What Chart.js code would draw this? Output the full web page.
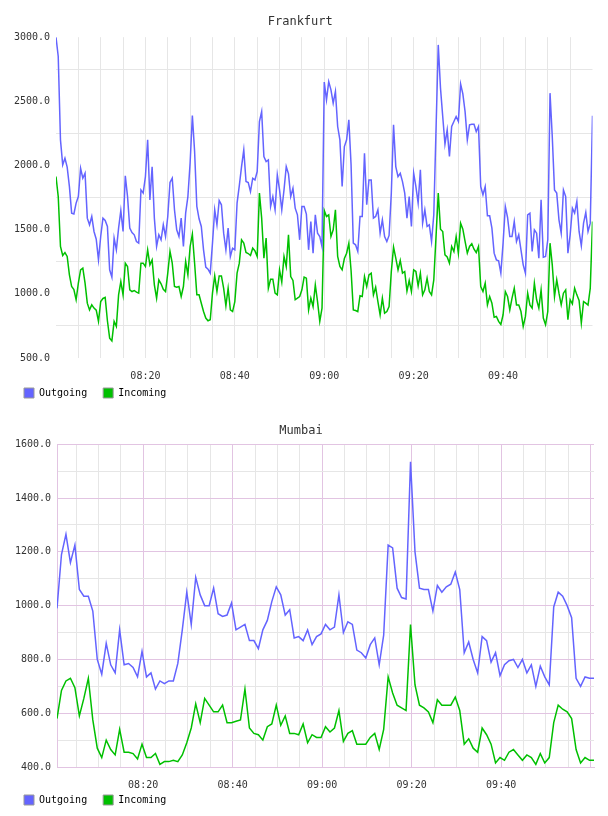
<!DOCTYPE html>
<html>
<head>
<meta charset="utf-8">
<title>Traffic</title>
<script src="https://cdn.jsdelivr.net/npm/chart.js@4.4.1/dist/chart.umd.min.js"></script>
<style>
    body { margin: 0; background: #fff; overflow: hidden; }
    .box { position: absolute; left: 0; width: 608px; height: 408px; }
</style>
</head>
<body>
<div class="box" style="top:0"><canvas id="frankfurtChart" width="608" height="408"></canvas></div>
<div class="box" style="top:408px"><canvas id="mumbaiChart" width="608" height="408"></canvas></div>
<script>
// Frankfurt: one sample every 30 s starting 08:00
const frankfurtStep = 0.5;
const frankfurtOutgoing = [
    3000, 2850, 2200, 2005, 2057, 1987, 1836, 1629, 1623, 1707,
    1758, 1979, 1901, 1940, 1590, 1538, 1603, 1486, 1426, 1265,
    1447, 1590, 1572, 1525, 1187, 1130, 1434, 1343, 1512, 1649,
    1486, 1920, 1758, 1512, 1478, 1460, 1408, 1395, 1810, 1785,
    1914, 2200, 1732, 1990, 1590, 1369, 1460, 1421, 1538, 1447,
    1603, 1868, 1901, 1655, 1499, 1447, 1590, 1369, 1629, 1758,
    2022, 2390, 2110, 1681, 1585, 1525, 1343, 1208, 1192, 1161,
    1395, 1655, 1538, 1727, 1694, 1473, 1343, 1512, 1291, 1356,
    1343, 1707, 1844, 1992, 2122, 1875, 1868, 1797, 1901, 1888,
    1953, 2343, 2421, 2070, 2031, 2044, 1681, 1758, 1655, 1927,
    1810, 1655, 1810, 1992, 1935, 1758, 1823, 1668, 1616, 1421,
    1681, 1681, 1621, 1343, 1564, 1317, 1616, 1473, 1447, 1369,
    2650, 2512, 2654, 2590, 2486, 2577, 2304, 2200, 1836, 2148,
    2200, 2356, 2005, 1395, 1382, 1330, 1603, 1603, 2096, 1694,
    1888, 1888, 1590, 1603, 1655, 1473, 1577, 1447, 1408, 1455,
    1785, 2317, 1992, 1914, 1940, 1875, 1785, 1590, 1758, 1525,
    1940, 1836, 1707, 1966, 1551, 1655, 1525, 1538, 1408, 1616,
    2280, 2940, 2603, 2382, 2166, 2278, 2070, 2304, 2343, 2382,
    2343, 2635, 2558, 2420, 2200, 2317, 2322, 2322, 2265, 2304,
    1836, 1772, 1836, 1608, 1608, 1512, 1317, 1265, 1257, 1161,
    1395, 1681, 1595, 1447, 1447, 1564, 1408, 1460, 1343, 1226,
    1161, 1616, 1629, 1330, 1499, 1473, 1278, 1733, 1286, 1291,
    1421, 2564, 2226, 1810, 1785, 1577, 1473, 1810, 1758, 1317,
    1460, 1668, 1629, 1720, 1486, 1374, 1551, 1634, 1486, 1551,
    2387
];
const frankfurtIncoming = [
    1914, 1758, 1369, 1299, 1322, 1291, 1148, 1057, 1034, 954,
    1083, 1187, 1200, 1083, 927, 875, 914, 889, 873, 785,
    940, 964, 972, 790, 655, 634, 785, 746, 992, 1096,
    992, 1239, 1213, 1031, 1018, 1026, 1013, 1005, 1239, 1239,
    1213, 1343, 1226, 1265, 1070, 966, 1109, 1078, 1036, 1018,
    1161, 1330, 1239, 1057, 1052, 1057, 979, 1057, 1252, 1148,
    1369, 1465, 1240, 992, 992, 927, 862, 811, 790, 798,
    1005, 1140, 1018, 1140, 1140, 1042, 907, 1044, 875, 862,
    940, 1161, 1239, 1421, 1395, 1322, 1314, 1299, 1356, 1335,
    1291, 1785, 1590, 1278, 1434, 1044, 1114, 1114, 1005, 992,
    1187, 1091, 1291, 1213, 1460, 1135, 1104, 954, 966, 979,
    1031, 1130, 1122, 875, 966, 901, 1070, 940, 785, 889,
    1650, 1603, 1616, 1447, 1499, 1655, 1291, 1213, 1187, 1275,
    1317, 1395, 1182, 875, 870, 862, 985, 979, 1135, 1057,
    1148, 1161, 992, 1052, 940, 836, 966, 849, 862, 901,
    1174, 1364, 1278, 1187, 1260, 1161, 1174, 1021, 1104, 1018,
    1187, 1174, 1062, 1161, 992, 1031, 1122, 1018, 992, 1109,
    1447, 1785, 1504, 1486, 1304, 1288, 1239, 1369, 1330, 1447,
    1317, 1550, 1504, 1408, 1317, 1369, 1390, 1348, 1322, 1369,
    1057, 1018, 1083, 914, 979, 927, 818, 824, 785, 761,
    837, 1018, 979, 875, 966, 1044, 914, 914, 862, 746,
    824, 1005, 914, 889, 1083, 954, 889, 1031, 811, 759,
    862, 1395, 1226, 979, 1109, 1005, 914, 1005, 1031, 798,
    954, 922, 1044, 992, 948, 772, 940, 927, 912, 1044,
    1564
];
const frankfurtMinutes = frankfurtOutgoing.map((v, i) => i * frankfurtStep);
const frankfurtYTicks = [500, 750, 1000, 1250, 1500, 1750, 2000, 2250, 2500, 2750, 3000];

// Mumbai: one sample a minute starting 08:00:45
const mumbaiStart = 0.75;
const mumbaiOutgoing = [
    990, 1190, 1265, 1160, 1225, 1060, 1035, 1035, 980, 800,
    745, 860, 780, 750, 910, 780, 785, 770, 735, 830,
    735, 750, 690, 720, 710, 720, 720, 785, 910, 1050,
    930, 1105, 1040, 1000, 1000, 1065, 970, 960, 965, 1010,
    910, 920, 930, 870, 870, 840, 910, 945, 1015, 1070,
    1040, 965, 985, 880, 885, 870, 910, 855, 885, 895,
    930, 910, 920, 1040, 900, 940, 930, 835, 825, 805,
    855, 880, 780, 890, 1225, 1215, 1065, 1030, 1025, 1535,
    1200, 1065, 1060, 1060, 980, 1075, 1050, 1070, 1080, 1125,
    1060, 825, 865, 800, 750, 885, 870, 790, 825, 740,
    780, 795, 800, 770, 800, 750, 780, 700, 775, 735,
    705, 995, 1050, 1035, 1000, 955, 730, 700, 735, 730,
    730
];
const mumbaiIncoming = [
    580, 685, 720, 730, 695, 590, 655, 730, 575, 470,
    435, 500, 465, 445, 540, 455, 455, 450, 430, 485,
    435, 435, 450, 410, 420, 420, 425, 420, 445, 490,
    545, 635, 565, 655, 630, 605, 605, 630, 565, 565,
    570, 575, 690, 545, 525, 520, 500, 550, 560, 630,
    555, 590, 525, 525, 520, 560, 490, 520, 510, 510,
    550, 530, 545, 610, 495, 525, 535, 485, 485, 485,
    510, 525, 465, 540, 735, 675, 630, 620, 610, 930,
    705, 630, 620, 605, 565, 650, 630, 630, 630, 660,
    610, 485, 505, 470, 455, 545, 520, 485, 415, 435,
    425, 455, 465, 445, 425, 445, 435, 410, 450, 415,
    435, 565, 630, 615, 605, 580, 465, 415, 435, 425,
    425
];
const mumbaiMinutes = mumbaiOutgoing.map((v, i) => mumbaiStart + i);
const mumbaiYTicks = [400, 500, 600, 700, 800, 900, 1000, 1100, 1200, 1300, 1400, 1500, 1600];

// minutes after 08:00, one grid line every 5 minutes
const timeTicks = [5, 10, 15, 20, 25, 30, 35, 40, 45, 50, 55, 60, 65, 70, 75, 80, 85, 90, 95, 100, 105, 110, 115, 120];
const seriesNames = ['Outgoing', 'Incoming'];
const seriesColors = ['#6464ff', '#00c000'];

Chart.defaults.font.family = "'DejaVu Sans Mono', monospace";
Chart.defaults.color = '#333';

// legend sits right under the tick labels, so pull it up a bit
const legendLift = {
    id: 'legendLift',
    afterLayout(chart, args, opts) {
        if (chart.legend) {
            chart.legend.top -= opts.dy;
            chart.legend.bottom -= opts.dy;
        }
    }
};

function clock(minutes) {
    const h = 8 + Math.floor(minutes / 60);
    const m = minutes % 60;
    return String(h).padStart(2, '0') + ':' + String(m).padStart(2, '0');
}

function makeChart(canvasId, cfg) {
    const canvas = document.getElementById(canvasId);
    if (!canvas) {
        console.error("Canvas '" + canvasId + "' not found.");
        return null;
    }
    return new Chart(canvas.getContext('2d'), {
        type: 'line',
        data: {
            labels: cfg.minutes,
            datasets: [{
                label: seriesNames[0],
                data: cfg.outgoing,
                borderColor: seriesColors[0],
                backgroundColor: seriesColors[0],
                borderWidth: 1.5,
                pointRadius: 0,
                tension: 0
            }, {
                label: seriesNames[1],
                data: cfg.incoming,
                borderColor: seriesColors[1],
                backgroundColor: seriesColors[1],
                borderWidth: 1.5,
                pointRadius: 0,
                tension: 0
            }]
        },
        plugins: [legendLift],
        options: {
            responsive: false,
            animation: false,
            events: [],
            layout: { padding: { left: 8, right: cfg.padRight, top: 0, bottom: -12 } },
            plugins: {
                legendLift: { dy: cfg.legendLift },
                title: {
                    display: true,
                    text: cfg.title,
                    color: '#333',
                    font: { size: 12, weight: 'normal' },
                    padding: cfg.titlePad
                },
                legend: {
                    position: 'bottom',
                    align: 'start',
                    labels: {
                        boxWidth: 10,
                        boxHeight: 10,
                        padding: 16,
                        color: '#333',
                        font: { size: 10 },
                        generateLabels: chart => chart.data.datasets.map((ds, i) => ({
                            text: ds.label,
                            fillStyle: ds.borderColor,
                            strokeStyle: '#999',
                            lineWidth: 1,
                            datasetIndex: i
                        }))
                    }
                },
                tooltip: { enabled: false }
            },
            scales: {
                x: {
                    type: 'linear',
                    min: cfg.xMin,
                    max: cfg.xMax,
                    afterBuildTicks: scale => {
                        scale.ticks = timeTicks.filter(m => m > cfg.xMin && m < cfg.xMax).map(m => ({ value: m }));
                    },
                    afterFit: scale => { scale.height = cfg.xHeight; },
                    border: { display: cfg.border, color: cfg.majorColor },
                    grid: {
                        drawTicks: false,
                        color: ctx => (cfg.border && ctx.tick.value % 20 === 0) ? cfg.majorColor : '#e6e6e6'
                    },
                    ticks: {
                        padding: 12,
                        maxRotation: 0,
                        autoSkip: false,
                        font: { size: 10 },
                        callback: v => (v % 20 === 0 && v < 120) ? clock(v) : ''
                    }
                },
                y: {
                    min: cfg.yTicks[0],
                    max: cfg.yTicks[cfg.yTicks.length - 1],
                    afterBuildTicks: scale => {
                        scale.ticks = cfg.yTicks.map(v => ({ value: v }));
                    },
                    afterFit: scale => { scale.width = cfg.yWidth; },
                    border: { display: cfg.border, color: cfg.majorColor },
                    grid: {
                        drawTicks: false,
                        color: ctx => {
                            if (ctx.tick.value % cfg.labelStep === 0) {
                                return cfg.border ? cfg.majorColor : 'rgba(0,0,0,0)';
                            }
                            return '#e6e6e6';
                        }
                    },
                    ticks: {
                        padding: 6,
                        autoSkip: false,
                        font: { size: 10 },
                        callback: v => v % cfg.labelStep === 0 ? v.toFixed(1) : ''
                    }
                }
            }
        }
    });
}

makeChart('frankfurtChart', {
    title: 'Frankfurt',
    minutes: frankfurtMinutes,
    outgoing: frankfurtOutgoing,
    incoming: frankfurtIncoming,
    xMin: 0,
    xMax: 120,
    yTicks: frankfurtYTicks,
    labelStep: 500,
    yWidth: 48,
    xHeight: 26,
    legendLift: 12,
    padRight: 15.5,
    titlePad: { top: 15, bottom: 7.8 },
    border: false,
    majorColor: '#e6e6e6'
});

makeChart('mumbaiChart', {
    title: 'Mumbai',
    minutes: mumbaiMinutes,
    outgoing: mumbaiOutgoing,
    incoming: mumbaiIncoming,
    xMin: mumbaiStart,
    xMax: mumbaiStart + 120,
    yTicks: mumbaiYTicks,
    labelStep: 200,
    yWidth: 49,
    xHeight: 25,
    legendLift: 13,
    padRight: 14,
    titlePad: { top: 15.8, bottom: 6.1 },
    border: true,
    majorColor: '#e2c4e2'
});
</script>
</body>
</html>
